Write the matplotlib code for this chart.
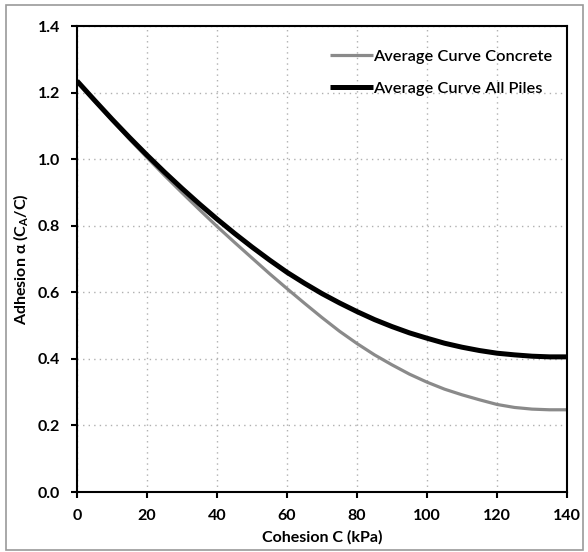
import matplotlib
matplotlib.use("Agg")
import matplotlib.pyplot as plt
from matplotlib.patches import Rectangle
from matplotlib.ticker import FormatStrFormatter

cohesion = [0, 5, 10, 15, 20, 25, 30, 35, 40, 45, 50, 55, 60, 65, 70,
            75, 80, 85, 90, 95, 100, 105, 110, 115, 120, 125, 130, 135, 140]
all_piles = [1.235, 1.177, 1.12, 1.065, 1.012, 0.961, 0.912, 0.865, 0.82, 0.777,
             0.736, 0.697, 0.66, 0.627, 0.596, 0.568, 0.542, 0.518, 0.497, 0.478,
             0.462, 0.447, 0.435, 0.425, 0.417, 0.412, 0.408, 0.406, 0.406]
concrete = [1.235, 1.175, 1.117, 1.060, 1.005, 0.951, 0.899, 0.848, 0.798, 0.750,
            0.703, 0.656, 0.611, 0.567, 0.524, 0.483, 0.446, 0.412, 0.382, 0.354,
            0.330, 0.309, 0.292, 0.277, 0.263, 0.254, 0.249, 0.247, 0.247]
x_ticks = [0, 20, 40, 60, 80, 100, 120, 140]
y_ticks = [0.0, 0.2, 0.4, 0.6, 0.8, 1.0, 1.2, 1.4]
labels = ["Average Curve Concrete", "Average Curve All Piles"]

plt.rcParams['font.family'] = ['Lato', 'DejaVu Sans']
plt.rcParams['mathtext.fontset'] = 'custom'
plt.rcParams['mathtext.rm'] = 'Lato:bold'
plt.rcParams['mathtext.bf'] = 'Lato:bold'

fig = plt.figure(figsize=(5.88, 5.52), dpi=100)
ax = fig.add_axes([77/588, 60/552, 490/588, 466/552])

ax.plot(cohesion, concrete, color='#8a8a8a', lw=2.3, label=labels[0], solid_capstyle='butt')
ax.plot(cohesion, all_piles, color='black', lw=3.6, label=labels[1], solid_capstyle='butt')

ax.set_xlim(0, 140)
ax.set_ylim(0, 1.4)
ax.set_xticks(x_ticks)
ax.set_yticks(y_ticks)
ax.yaxis.set_major_formatter(FormatStrFormatter('%.1f'))
ax.grid(True, color='#b0b0b0', linestyle=(0, (1, 3)), linewidth=1.0)
for s in ax.spines.values():
    s.set_linewidth(1.5)
    s.set_color('black')
ax.tick_params(direction='out', length=4, width=1.5, labelsize=11.5)
ax.tick_params(axis='y', pad=8)
ax.tick_params(axis='x', pad=8)
for lab in ax.get_xticklabels() + ax.get_yticklabels():
    lab.set_fontweight('bold')
ax.set_xlabel('Cohesion C (kPa)', fontsize=11.5, fontweight='bold', labelpad=5)
ax.set_ylabel(r'Adhesion α (C$_{\mathrm{A}}$/C)', fontsize=11.5, fontweight='bold', labelpad=5)

leg = ax.legend(loc='upper right', bbox_to_anchor=(1.0, 0.982), frameon=False,
                prop={'size': 11.8, 'weight': 'semibold'},
                handlelength=2.6, handletextpad=0.0, labelspacing=1.1)

fig.patches.append(Rectangle((6/588, 2/552), 577/588, 545/552, transform=fig.transFigure,
                             fill=False, edgecolor='#9a9a9a', linewidth=1.2))

fig.savefig('out.png', dpi=100)
